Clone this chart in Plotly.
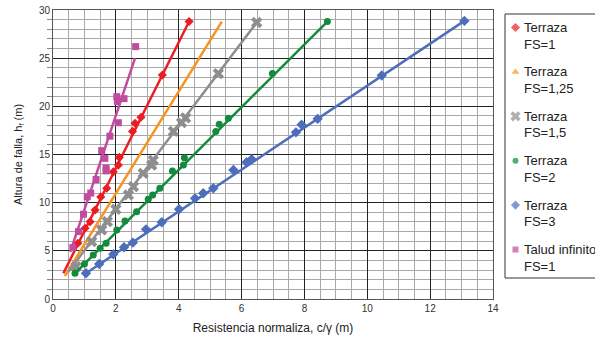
import plotly.graph_objects as go

# ---- data ----
fs1_x = [0.79, 1.02, 1.18, 1.34, 1.52, 1.71, 1.92, 2.08, 2.11, 2.53, 2.61, 2.80, 3.48, 4.33]
fs1_y = [5.78, 7.34, 8.03, 9.24, 10.6, 11.5, 13.2, 13.9, 14.7, 17.4, 18.24, 18.87, 23.26, 28.8]
fs1_fit_x = [0.33, 4.33]
fs1_fit_y = [2.67, 28.8]

fs125_x = []
fs125_y = []
fs125_fit_x = [0.38, 5.37]
fs125_fit_y = [2.39, 28.8]

fs15_x = [0.73, 1.23, 1.55, 1.73, 2.00, 2.40, 2.56, 2.87, 3.14, 3.19, 3.83, 4.09, 4.22, 5.26, 6.48]
fs15_y = [3.36, 5.95, 7.17, 8.03, 9.31, 10.8, 11.66, 13.05, 13.9, 14.4, 17.4, 18.3, 18.8, 23.4, 28.7]
fs15_fit_x = [0.49, 6.48]
fs15_fit_y = [2.84, 28.7]

fs2_x = [0.70, 1.00, 1.28, 1.50, 1.69, 2.03, 2.29, 2.66, 3.03, 3.17, 3.40, 3.80, 4.15, 4.18, 5.18, 5.29, 5.58, 6.98, 8.73]
fs2_y = [2.67, 3.63, 4.57, 5.26, 5.78, 7.17, 8.1, 9.07, 10.35, 10.8, 11.5, 13.3, 13.9, 14.67, 17.4, 18.14, 18.76, 23.4, 28.8]
fs2_fit_x = [0.70, 8.73]
fs2_fit_y = [2.67, 28.8]

fs3_x = [1.05, 1.47, 1.92, 2.26, 2.54, 2.96, 3.46, 4.01, 4.52, 4.78, 5.10, 5.74, 6.16, 6.32, 7.73, 7.91, 8.42, 10.46, 13.09]
fs3_y = [2.67, 3.63, 4.64, 5.37, 5.85, 7.23, 7.96, 9.31, 10.45, 10.97, 11.5, 13.4, 14.2, 14.5, 17.3, 18.1, 18.7, 23.2, 28.87]
fs3_fit_x = [1.05, 13.09]
fs3_fit_y = [2.67, 28.87]

tal_x = [0.63, 0.81, 0.97, 1.09, 1.20, 1.37, 1.69, 1.69, 1.65, 1.55, 1.81, 2.08, 2.03, 2.05, 2.26, 2.63]
tal_y = [5.33, 7.0, 8.8, 10.6, 11.0, 12.4, 13.3, 13.6, 14.6, 15.4, 16.9, 18.3, 21.0, 20.5, 20.8, 26.2]
tal_fit_x = [0.55, 2.61]
tal_fit_y = [4.9, 25.0]

legend_line1 = ["Terraza", "Terraza", "Terraza", "Terraza", "Terraza", "Talud infinito"]
legend_line2 = ["FS=1", "FS=1,25", "FS=1,5", "FS=2", "FS=3", "FS=1"]

series = [
    ("#ec1c24", "diamond", 7, fs1_x, fs1_y, fs1_fit_x, fs1_fit_y),
    ("#f7941d", "triangle-up", 8, fs125_x, fs125_y, fs125_fit_x, fs125_fit_y),
    ("#8e8e8e", "x", 10, fs15_x, fs15_y, fs15_fit_x, fs15_fit_y),
    ("#138a3e", "circle", 7, fs2_x, fs2_y, fs2_fit_x, fs2_fit_y),
    ("#4d6ebd", "diamond", 8, fs3_x, fs3_y, fs3_fit_x, fs3_fit_y),
    ("#c04ba0", "square", 7, tal_x, tal_y, tal_fit_x, tal_fit_y),
]

# ---- layout geometry (pixels) ----
W, H = 595, 340
L, R_PLOT, T, B_PLOT = 53, 493, 10, 299
LEG_L, LEG_T, LEG_B = 505, 14, 278
paper_w = W - L
x_dom_main = [0, (R_PLOT - L) / paper_w]
x_dom_leg = [(LEG_L - L) / paper_w, 1]

fig = go.Figure()
for i, (col, sym, sz, x, y, fx, fy) in enumerate(series):
    fig.add_trace(go.Scatter(x=fx, y=fy, mode="lines", line=dict(color=col, width=2.5),
                             showlegend=False, hoverinfo="skip"))
    fig.add_trace(go.Scatter(x=x, y=y, mode="markers", showlegend=False,
                             name=f"{legend_line1[i]} {legend_line2[i]}",
                             marker=dict(color=col, symbol=sym, size=sz, line=dict(width=0))))

# ---- custom legend (pixel coordinate overlay axis) ----
row_y = [27.5 + 44.4 * k for k in range(len(series))]
leg_sizes = [7, 7, 9, 6, 7, 6]
fig.add_trace(go.Scatter(
    x=[515.5] * len(series), y=row_y, mode="markers", xaxis="x2", yaxis="y2",
    marker=dict(color=[s[0] for s in series], symbol=[s[1] for s in series],
                size=leg_sizes, line=dict(width=0)),
    showlegend=False, hoverinfo="skip", cliponaxis=False))

for k in range(len(series)):
    for j, txt in enumerate((legend_line1[k], legend_line2[k])):
        fig.add_annotation(x=522, y=row_y[k] + 16.5 * j, xref="x2", yref="y2",
                           text=txt, showarrow=False, xanchor="left", yanchor="middle",
                           font=dict(size=13, color="#222"))

fig.add_shape(type="rect", xref="paper", yref="paper",
              x0=x_dom_leg[0], x1=1.05,
              y0=(B_PLOT - LEG_B) / (B_PLOT - T), y1=(B_PLOT - LEG_T) / (B_PLOT - T),
              line=dict(color="#333", width=1), fillcolor="rgba(0,0,0,0)", layer="below")

axis_common = dict(showline=True, linecolor="#555", linewidth=1, mirror=True,
                   gridcolor="#222", gridwidth=1, zeroline=False,
                   tickfont=dict(size=10, color="#333"), ticks="")

fig.update_layout(
    xaxis=dict(domain=x_dom_main, range=[0, 14], dtick=2, tick0=0,
               minor=dict(dtick=0.5, showgrid=True, gridcolor="#a8a8a8", gridwidth=1),
               title=dict(text="Resistencia normaliza, c/γ (m)",
                          font=dict(size=12, color="#222"), standoff=10),
               **axis_common),
    yaxis=dict(range=[0, 30], dtick=5, tick0=0,
               minor=dict(dtick=1, showgrid=True, gridcolor="#a8a8a8", gridwidth=1,
                          ticks="outside", ticklen=5, tickcolor="#888"),
               title=dict(text="Altura de falla, h<sub>f</sub> (m)",
                          font=dict(size=11, color="#222"), standoff=14),
               **axis_common),
    xaxis2=dict(domain=x_dom_leg, range=[LEG_L, W], visible=False, anchor="y2", fixedrange=True),
    yaxis2=dict(domain=[0, 1], range=[B_PLOT, T], visible=False, anchor="x2", fixedrange=True),
    width=W, height=H,
    margin=dict(l=L, r=0, t=T, b=H - B_PLOT, autoexpand=False),
    plot_bgcolor="white", paper_bgcolor="white",
    font=dict(family="Liberation Sans, Arial, sans-serif", color="#222"),
    showlegend=False,
)

fig.write_html("out.html")
